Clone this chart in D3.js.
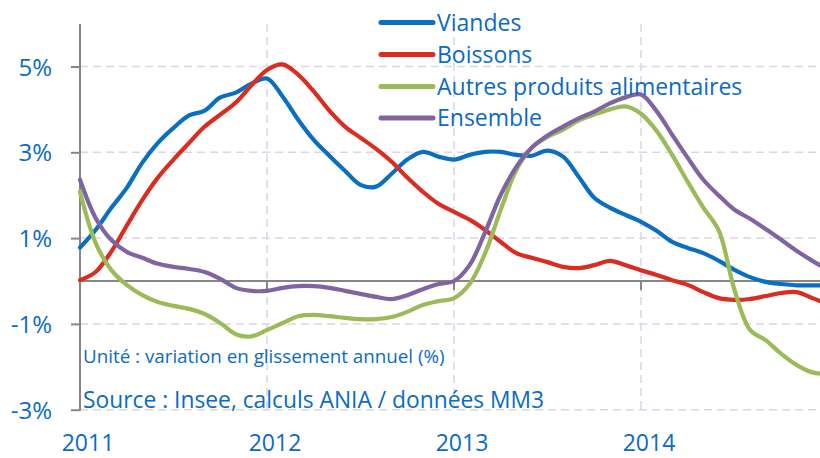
<!DOCTYPE html>
<html>
<head>
<meta charset="utf-8">
<script src="https://cdn.jsdelivr.net/npm/d3@7"></script>
<style>
  html, body { margin: 0; padding: 0; background: #ffffff; }
  svg { display: block; }
  text { font-family: "Open Sans", sans-serif; fill: #0A6BC4; }
</style>
</head>
<body>
<div id="chart"></div>
<script>
// Month index 0 = Jan 2011 ... 48 = Jan 2015
const months = d3.range(49);
const viandes = [0.78,1.19,1.7,2.17,2.76,3.22,3.57,3.86,3.97,4.28,4.39,4.6,4.72,4.3,3.76,3.29,2.92,2.57,2.24,2.2,2.5,2.83,3.01,2.9,2.83,2.94,3.01,3.01,2.94,2.92,3.04,2.9,2.43,1.94,1.71,1.54,1.38,1.17,0.91,0.77,0.65,0.47,0.26,0.09,-0.02,-0.07,-0.1,-0.1,-0.1];
const boissons = [0.02,0.21,0.68,1.29,1.89,2.41,2.83,3.22,3.6,3.88,4.16,4.56,4.92,5.05,4.81,4.42,3.97,3.6,3.34,3.08,2.78,2.41,2.08,1.8,1.61,1.43,1.19,0.91,0.65,0.54,0.44,0.33,0.3,0.37,0.47,0.37,0.25,0.14,0.02,-0.09,-0.26,-0.4,-0.44,-0.42,-0.35,-0.28,-0.26,-0.4,-0.54];
const autres = [2.08,0.89,0.26,-0.09,-0.33,-0.49,-0.58,-0.65,-0.77,-0.98,-1.24,-1.29,-1.14,-0.98,-0.82,-0.79,-0.82,-0.86,-0.89,-0.89,-0.84,-0.72,-0.56,-0.47,-0.4,-0.07,0.65,1.66,2.59,3.11,3.36,3.53,3.74,3.88,4.0,4.07,3.9,3.5,2.94,2.31,1.71,1.17,-0.21,-1.14,-1.38,-1.7,-1.96,-2.13,-2.17];
const ensemble = [2.36,1.47,0.96,0.68,0.54,0.4,0.33,0.28,0.21,0.05,-0.16,-0.23,-0.23,-0.16,-0.12,-0.12,-0.16,-0.23,-0.3,-0.37,-0.42,-0.33,-0.19,-0.07,0.0,0.37,1.14,2.01,2.66,3.11,3.39,3.6,3.79,3.95,4.14,4.28,4.35,3.96,3.41,2.87,2.36,1.99,1.66,1.45,1.21,0.96,0.7,0.47,0.26];

const seriesNames = ["Viandes", "Boissons", "Autres produits alimentaires", "Ensemble"];
const seriesColors = ["#0B6FC1", "#DA2D20", "#9BBB59", "#8064A2"];
const seriesValues = [viandes, boissons, autres, ensemble];

const yTicks = [5, 3, 1, -1, -3];
const yTickLabels = ["5%", "3%", "1%", "-1%", "-3%"];
const yearTicks = [0, 12, 24, 36];
const yearLabels = ["2011", "2012", "2013", "2014"];

const unitText = "Unité : variation en glissement annuel (%)";
const sourceText = "Source : Insee, calculs ANIA / données MM3";

const W = 820, H = 458;
const svg = d3.select("#chart").append("svg").attr("width", W).attr("height", H);

const x = d3.scaleLinear().domain([0, 12]).range([80, 267]);
const y = d3.scaleLinear().domain([0, 5]).range([281, 66.5]);

const gridColor = "#DCD5E8";

// horizontal gridlines
svg.append("g").selectAll("line").data(yTicks).join("line")
  .attr("x1", 80).attr("x2", W)
  .attr("y1", d => y(d)).attr("y2", d => y(d))
  .attr("stroke", gridColor).attr("stroke-width", 1.5)
  .attr("stroke-dasharray", "8,5");

// vertical gridlines
svg.append("g").selectAll("line").data(yearTicks.slice(1)).join("line")
  .attr("x1", d => x(d)).attr("x2", d => x(d))
  .attr("y1", 24).attr("y2", y(-3))
  .attr("stroke", gridColor).attr("stroke-width", 1.5)
  .attr("stroke-dasharray", "8,5");

// y axis
const yAxis = d3.axisLeft(y).tickValues(yTicks).tickSize(9).tickFormat((d, i) => yTickLabels[i]);
const gy = svg.append("g").attr("transform", "translate(80,0)").call(yAxis);
gy.select(".domain").remove();
gy.selectAll(".tick line").attr("stroke", "#868686").attr("stroke-width", 2);
gy.selectAll(".tick text").attr("x", -28).attr("dy", "0.36em")
  .style("font-size", "24px").style("font-family", "'Open Sans', sans-serif").attr("fill", "#0A6BC4");
svg.append("line").attr("x1", 80).attr("x2", 80).attr("y1", 24).attr("y2", y(-3) + 1)
  .attr("stroke", "#868686").attr("stroke-width", 2);

// zero line with year ticks
svg.append("line").attr("x1", 80).attr("x2", W).attr("y1", y(0)).attr("y2", y(0))
  .attr("stroke", "#868686").attr("stroke-width", 2);
svg.append("g").selectAll("line").data(yearTicks).join("line")
  .attr("x1", d => x(d)).attr("x2", d => x(d))
  .attr("y1", y(0)).attr("y2", y(0) + 9)
  .attr("stroke", "#868686").attr("stroke-width", 2);

// year labels
svg.append("g").selectAll("text").data(yearTicks).join("text")
  .attr("x", d => x(d) + 8).attr("y", 451)
  .attr("text-anchor", "middle")
  .style("font-size", "23px")
  .text((d, i) => yearLabels[i]);

// annotations
svg.append("text").attr("x", 83).attr("y", 363).style("font-size", "18.8px").text(unitText);
svg.append("text").attr("x", 83).attr("y", 408).style("font-size", "22.8px").text(sourceText);

// lines
const line = d3.line().x((d, i) => x(i)).y(d => y(d)).curve(d3.curveCatmullRom.alpha(0.5));
svg.append("g").selectAll("path").data(seriesValues).join("path")
  .attr("d", d => line(d))
  .attr("fill", "none")
  .attr("stroke", (d, i) => seriesColors[i])
  .attr("stroke-width", 4.2)
  .attr("stroke-linejoin", "round")
  .attr("stroke-linecap", "round");

// legend
const legendY = [22.5, 54.5, 86.5, 118];
const lg = svg.append("g").selectAll("g").data(seriesNames).join("g")
  .attr("transform", (d, i) => `translate(0,${legendY[i]})`);
lg.append("line").attr("x1", 381).attr("x2", 433).attr("y1", 0).attr("y2", 0)
  .attr("stroke", (d, i) => seriesColors[i]).attr("stroke-width", 5).attr("stroke-linecap", "round");
lg.append("text").attr("x", 437).attr("y", 0).attr("dy", "0.36em")
  .style("font-size", "23px").text(d => d);
</script>
</body>
</html>
